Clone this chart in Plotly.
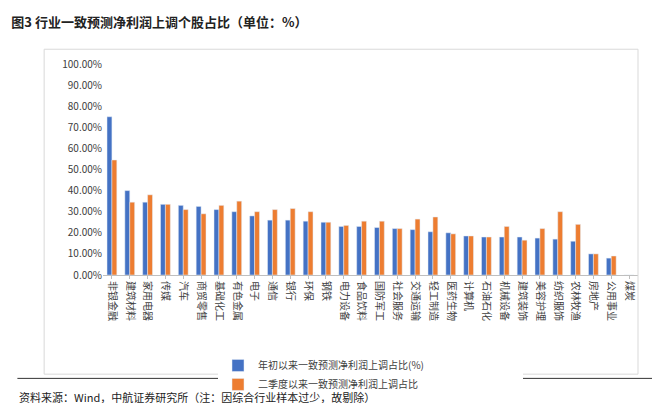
import plotly.graph_objects as go

industries = ["非银金融","建筑材料","家用电器","传媒","汽车","商贸零售","基础化工","有色金属","电子","通信","银行","环保","钢铁","电力设备","食品饮料","国防军工","社会服务","交通运输","轻工制造","医药生物","计算机","石油石化","机械设备","建筑装饰","美容护理","纺织服饰","农林牧渔","房地产","公用事业","煤炭"]
ytd = [75,40,34.5,33.5,33,32.5,31,30,28,26,26,25.5,25,23,23,22.5,22,21.5,20.5,20,18.5,18,18,18,17.5,17,16,10,8,0]
q2 = [54.5,34.5,38,33.5,31,29,33,35,30,31,31.5,30,25,23.5,25.5,25.5,22,26.5,27.5,19.5,18.5,18,23,16.5,22,30,24,10,9,0]
ytd_name = "年初以来一致预测净利润上调占比(%)"
q2_name = "二季度以来一致预测净利润上调占比"
yticks = [i*10 for i in range(11)]
ytick_text = [f"{v:.2f}%" for v in yticks]

font = "Noto Sans CJK SC"
fig = go.Figure()
fig.add_bar(x=industries, y=ytd, name=ytd_name, marker_color="#4472C4")
fig.add_bar(x=industries, y=q2, name=q2_name, marker_color="#ED7D31")
fig.update_layout(
    width=660, height=403, paper_bgcolor="white", plot_bgcolor="white",
    margin=dict(l=95, r=30, t=56, b=136),
    font=dict(family=font, size=10, color="#404040"),
    bargap=0.45, bargroupgap=0, showlegend=True,
    legend=dict(orientation="h", x=0.5, xanchor="center", y=-0.36, yanchor="top",
                font=dict(size=10), itemwidth=30, entrywidth=260),
    title=dict(text="<b>图3 行业一致预测净利润上调个股占比（单位：%）</b>", x=0.005, y=0.975,
               xanchor="left", yanchor="top", font=dict(size=13, color="#222")),
    annotations=[dict(text="资料来源：Wind，中航证券研究所（注：因综合行业样本过少，故剔除）", xref="paper", yref="paper",
                      x=-0.16, y=-0.53, xanchor="left", yanchor="top", showarrow=False,
                      font=dict(size=11, color="#222"))],
    shapes=[dict(type="line", xref="paper", yref="paper", x0=-0.16, x1=1.05, y0=-0.49, y1=-0.49,
                 line=dict(color="#333", width=1)),
            dict(type="rect", xref="paper", yref="paper", x0=-0.11, x1=1.0, y0=1.07, y1=-0.47,
                 line=dict(color="#d9d9d9", width=1))],
)
fig.update_xaxes(tickangle=90, tickfont=dict(size=10), showline=True, linecolor="#bfbfbf", ticks="outside", ticklen=3, tickcolor="#bfbfbf")
fig.update_yaxes(range=[0,100], tickvals=yticks, ticktext=ytick_text, showgrid=False, zeroline=False, tickfont=dict(size=10))
fig.write_html("out.html")
